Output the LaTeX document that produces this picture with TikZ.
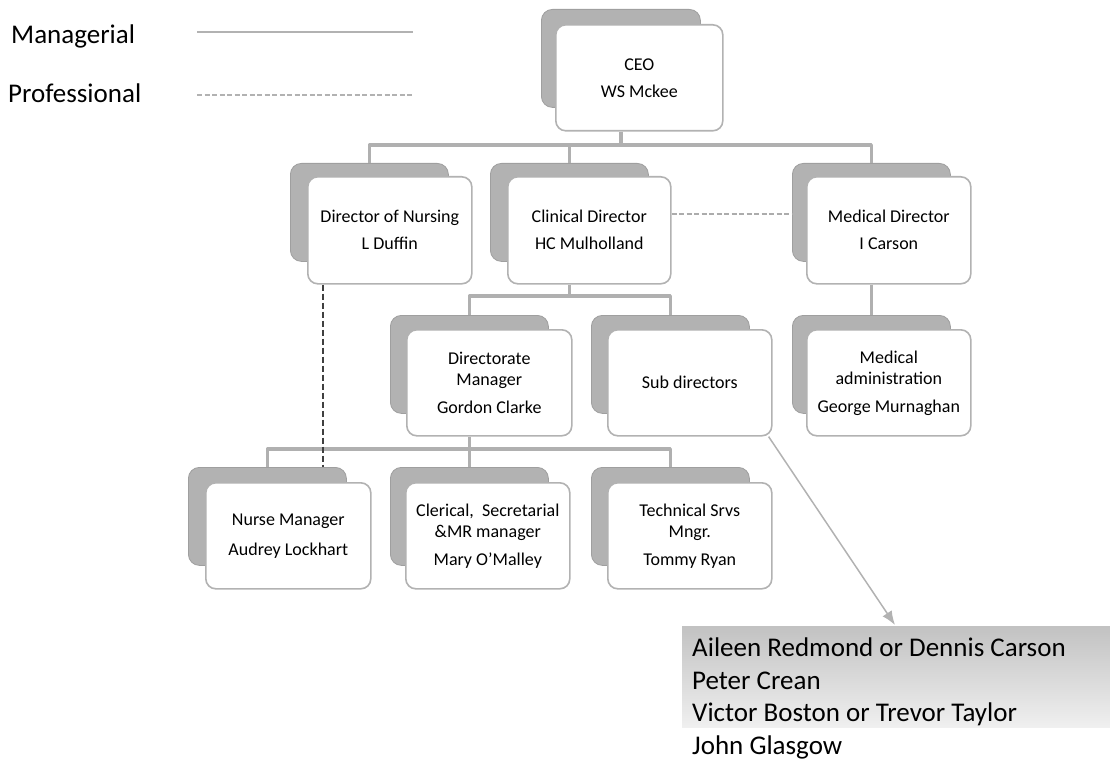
\documentclass[tikz,border=0pt]{standalone}
\usepackage{fontspec}
\setmainfont{Carlito}
\usetikzlibrary{arrows.meta}
\tikzset{
  shadowbox/.style={fill=gray!60, draw=gray!75, line width=0.8pt, rounded corners=11pt, anchor=north west, inner sep=0pt, minimum width=158pt, minimum height=98pt},
  whitebox/.style={fill=white, draw=gray!60, line width=1.6pt, rounded corners=10pt, anchor=north west, align=center, inner sep=2pt, font=\fontsize{18}{21}\selectfont},
  mgr/.style={draw=gray!62, line width=3.2pt},
  proflegend/.style={draw=gray!60, line width=2pt, dash pattern=on 5pt off 2.5pt},
  profh/.style={draw=gray!65, line width=1.6pt, dash pattern=on 5pt off 2.5pt},
  profv/.style={draw=gray!50!black, line width=1.6pt, dash pattern=on 6pt off 3pt},
  legendtext/.style={anchor=west, inner sep=0pt, font=\fontsize{27}{30}\selectfont},
}
\begin{document}
\begin{tikzpicture}[x=1pt,y=-1pt]
\useasboundingbox (0,0) rectangle (1110,767);

% legend
\node[legendtext] (lman) at (11,36) {Managerial};
\node[legendtext] (lpro) at (8,93) {Professional};
\coordinate (m1) at (197,32); \coordinate (m2) at (413,32);
\coordinate (p1) at (197,95); \coordinate (p2) at (413,95);
\draw[draw=gray!60, line width=2pt] (m1) -- (m2);
\draw[proflegend] (p1) -- (p2);

% CEO
\node[shadowbox, minimum width=159pt] (ceoS) at (541,9) {};
\node[whitebox, minimum width=167pt, minimum height=106pt] (ceo) at (555,24) {CEO\\[6pt]WS Mckee};

% directors
\node[shadowbox] (donS) at (290,163) {};
\node[whitebox, minimum width=164pt, minimum height=107pt] (don) at (307,176) {Director of Nursing\\[6pt]L Duffin};
\node[shadowbox] (clinS) at (490,163) {};
\node[whitebox, minimum width=163pt, minimum height=107pt] (clin) at (507,176) {Clinical Director\\[6pt]HC Mulholland};
\node[shadowbox] (medS) at (792,163) {};
\node[whitebox, minimum width=164pt, minimum height=107pt] (med) at (806,176) {Medical Director\\[6pt]I Carson};

% second row
\node[shadowbox] (dirmS) at (390,315) {};
\node[whitebox, minimum width=165pt, minimum height=106pt] (dirm) at (406,329) {Directorate\\Manager\\[7pt]Gordon Clarke};
\node[shadowbox] (subS) at (591,315) {};
\node[whitebox, minimum width=164pt, minimum height=106pt] (sub) at (607,329) {Sub directors};
\node[shadowbox] (madS) at (792,315) {};
\node[whitebox, minimum width=164pt, minimum height=106pt] (mad) at (806,329) {Medical\\administration\\[7pt]George Murnaghan};

% third row
\node[shadowbox] (nurS) at (188,467) {};
\node[whitebox, minimum width=165pt, minimum height=106pt] (nur) at (205,482) {Nurse Manager\\[9pt]Audrey Lockhart};
\node[shadowbox] (cleS) at (390,467) {};
\node[whitebox, minimum width=164pt, minimum height=106pt] (cle) at (405,482) {Clerical,\ \ Secretarial\\\&MR manager\\[7pt]Mary O'Malley};
\node[shadowbox] (tecS) at (591,467) {};
\node[whitebox, minimum width=164pt, minimum height=106pt] (tec) at (607,482) {Technical Srvs\\Mngr.\\[7pt]Tommy Ryan};

% bus coordinates
\coordinate (b1) at (0,145);
\coordinate (b2) at (0,296);
\coordinate (b3) at (0,449);

% managerial connectors
\draw[mgr] (ceoS.north |- ceo.south) -- (ceoS.north |- b1);
\draw[mgr, line join=round] (donS.north) -- (donS.north |- b1) -- (medS.north |- b1) -- (medS.north);
\draw[mgr] (clinS.north |- b1) -- (clinS.north);

\draw[mgr] (clinS.north |- clin.south) -- (clinS.north |- b2);
\draw[mgr, line join=round] (dirmS.north) -- (dirmS.north |- b2) -- (subS.north |- b2) -- (subS.north);

\draw[mgr] (medS.north |- med.south) -- (madS.north);

\draw[mgr] (dirmS.north |- dirm.south) -- (dirmS.north |- b3);
\draw[mgr, line join=round] (nurS.north) -- (nurS.north |- b3) -- (tecS.north |- b3) -- (tecS.north);
\draw[mgr] (cleS.north |- b3) -- (cleS.north);

% professional connectors
\draw[profh] ([yshift=16pt]clin.east) -- ([yshift=16pt]clin.east -| medS.west);
\draw[profv] ([xshift=16pt]don.south west) -- ([xshift=16pt]don.south west |- nurS.north);

% names list
\node[anchor=north west, minimum width=428pt, minimum height=101pt, inner sep=0pt, top color=gray!48, bottom color=gray!12, draw=none] (list) at (682,626) {};
\node[anchor=north west, align=left, inner sep=0pt, font=\fontsize{27}{32.5}\selectfont] (names) at (692,638) {Aileen Redmond or Dennis Carson\\Peter Crean\\Victor Boston or Trevor Taylor\\John Glasgow};
\coordinate (tip) at (895,625);
\draw[draw=gray!60, line width=1.5pt, -{Latex[length=14pt,width=11pt]}] ([xshift=-4pt]sub.south east) -- (tip);

\end{tikzpicture}
\end{document}
